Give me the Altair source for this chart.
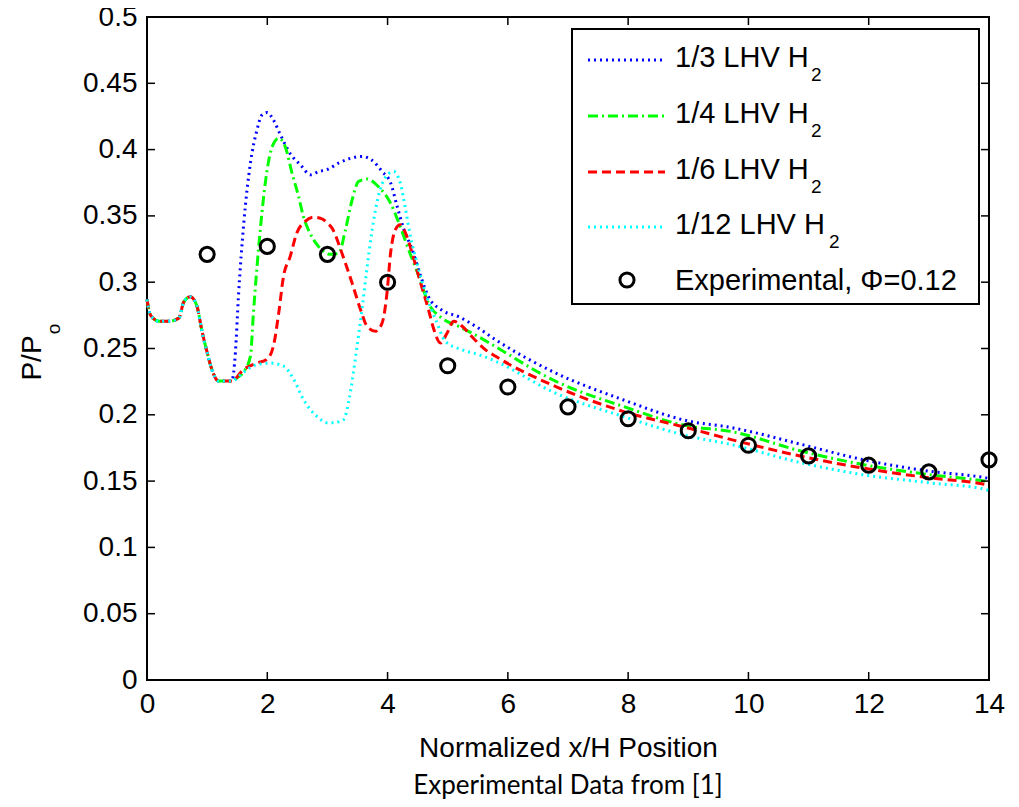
import altair as alt
import pandas as pd

# ---------------- data ----------------
# common start shared by all four simulated curves
common_x = [0.0, 0.06, 0.2, 0.38, 0.53, 0.61, 0.72, 0.83, 0.91, 1.0, 1.08, 1.19, 1.3, 1.41]
common_y = [0.287, 0.275, 0.2706, 0.2706, 0.273, 0.285, 0.289, 0.282, 0.264, 0.247, 0.234, 0.2254, 0.2254, 0.2254]

third_x = [1.47, 1.52, 1.61, 1.72, 1.83, 1.91, 2.0, 2.1, 2.21, 2.38, 2.55, 2.72, 2.86, 3.0, 3.19, 3.58, 3.74,
           3.91, 4.05, 4.16, 4.27, 4.41, 4.55, 4.68, 4.9, 5.18, 5.51, 5.79, 6.79, 7.9, 9.0, 9.7, 10.88, 11.88,
           12.99, 13.93, 14.0]
third_y = [0.247, 0.289, 0.345, 0.39, 0.415, 0.426, 0.428, 0.4225, 0.412, 0.397, 0.3886, 0.381, 0.3835, 0.385,
           0.39, 0.3948, 0.392, 0.3835, 0.375, 0.357, 0.34, 0.3245, 0.3045, 0.289, 0.279, 0.274, 0.2654, 0.2568,
           0.2316, 0.2116, 0.1953, 0.1905, 0.1777, 0.1664, 0.1576, 0.1526, 0.152]

quarter_x = [1.5, 1.6, 1.72, 1.77, 1.83, 1.91, 1.99, 2.08, 2.19, 2.3, 2.41, 2.52, 2.6, 2.71, 2.85, 3.05, 3.19,
             3.3, 3.41, 3.52, 3.66, 3.85, 4.05, 4.21, 4.35, 4.52, 4.68, 4.9, 5.18, 5.51, 5.79, 6.79, 7.9, 9.0,
             9.7, 10.88, 11.88, 12.99, 13.93, 14.0]
quarter_y = [0.228, 0.232, 0.2443, 0.277, 0.312, 0.352, 0.3825, 0.402, 0.4085, 0.402, 0.3825, 0.3647, 0.3496,
             0.337, 0.327, 0.321, 0.322, 0.3396, 0.362, 0.376, 0.3778, 0.372, 0.3595, 0.342, 0.3245, 0.3045,
             0.2842, 0.273, 0.2667, 0.259, 0.2515, 0.2254, 0.2066, 0.1915, 0.1875, 0.1726, 0.1627, 0.155, 0.150,
             0.1495]

sixth_x = [1.6, 1.83, 1.99, 2.1, 2.19, 2.27, 2.38, 2.49, 2.63, 2.77, 2.9, 3.0, 3.08, 3.24, 3.41, 3.55, 3.66,
           3.8, 3.91, 3.99, 4.05, 4.13, 4.21, 4.32, 4.44, 4.55, 4.68, 4.77, 4.88, 4.99, 5.1, 5.24, 5.4, 5.63,
           5.79, 6.79, 7.9, 9.0, 9.7, 10.88, 11.88, 12.99, 13.93, 14.0]
sixth_y = [0.234, 0.239, 0.2417, 0.2515, 0.2767, 0.3045, 0.3193, 0.337, 0.3459, 0.349, 0.348, 0.3446, 0.3406,
           0.322, 0.2994, 0.2794, 0.2667, 0.263, 0.2693, 0.2918, 0.322, 0.3396, 0.3434, 0.3346, 0.317, 0.2994,
           0.2794, 0.2643, 0.2542, 0.2617, 0.2706, 0.2668, 0.259, 0.249, 0.2443, 0.2214, 0.2028, 0.190, 0.1815,
           0.1687, 0.16, 0.1526, 0.1476, 0.147]

twelfth_x = [1.6, 1.83, 2.05, 2.27, 2.44, 2.6, 2.82, 3.0, 3.1, 3.27, 3.36, 3.47, 3.58, 3.69, 3.8, 3.94, 4.1,
             4.21, 4.3, 4.38, 4.49, 4.63, 4.8, 4.96, 5.24, 5.51, 5.79, 6.79, 7.9, 9.0, 9.7, 10.88, 11.88, 12.99,
             13.93, 14.0]
twelfth_y = [0.232, 0.238, 0.239, 0.2367, 0.2267, 0.2116, 0.199, 0.194, 0.194, 0.1965, 0.2116, 0.2443, 0.2816,
             0.322, 0.3547, 0.3773, 0.3835, 0.375, 0.3547, 0.3346, 0.3145, 0.2918, 0.2718, 0.2555, 0.249,
             0.2455, 0.2405, 0.2164, 0.199, 0.184, 0.1777, 0.1638, 0.155, 0.1488, 0.1438, 0.143]

exp_x = [1, 2, 3, 4, 5, 6, 7, 8, 9, 10, 11, 12, 13, 14]
exp_y = [0.321, 0.327, 0.321, 0.300, 0.237, 0.221, 0.206, 0.197, 0.188, 0.177, 0.169, 0.162, 0.157, 0.166]

series_names = ["1/3 LHV H", "1/4 LHV H", "1/6 LHV H", "1/12 LHV H"]
series_x = [third_x, quarter_x, sixth_x, twelfth_x]
series_y = [third_y, quarter_y, sixth_y, twelfth_y]
exp_label = "Experimental, \u03a6=0.12"

x_ticks = [0, 2, 4, 6, 8, 10, 12, 14]
y_ticks = [0, 0.05, 0.1, 0.15, 0.2, 0.25, 0.3, 0.35, 0.4, 0.45, 0.5]

# ---------------- styles ----------------
colors = ["#0000ff", "#00ff00", "#ff0000", "#00ffff"]
dashes = [[2, 4], [10, 4, 2, 4], [9, 5], [2, 4]]
FONT = "Liberation Sans"
W, H = 842, 663
LW = 3

xs = alt.Scale(domain=[0, 14], nice=False, zero=False)
ys = alt.Scale(domain=[0, 0.5], nice=False)

xaxis = alt.Axis(values=x_ticks, title="Normalized x/H Position", labelFontSize=28, labelFont=FONT,
                 ticks=False, domain=False, grid=False, labelPadding=10, labelFlush=False,
                 labelOverlap=False, labelColor="black", titleFont=FONT, titleFontSize=28,
                 titleFontWeight="normal", titleColor="black", titleBaseline="alphabetic", titleY=76,
                 format="d")
yaxis = alt.Axis(values=y_ticks, title=None, labelFontSize=28, labelFont=FONT, ticks=False, domain=False,
                 grid=False, labelPadding=10, labelFlush=False, labelOverlap=False, labelColor="black",
                 format="~g")

layers = []
for i, name in enumerate(series_names):
    df = pd.DataFrame({"x": common_x + series_x[i], "y": common_y + series_y[i]})
    enc = dict(x=alt.X("x:Q", scale=xs, axis=xaxis), y=alt.Y("y:Q", scale=ys, axis=yaxis)) if i == 0 else \
        dict(x=alt.X("x:Q", scale=xs), y=alt.Y("y:Q", scale=ys))
    layers.append(
        alt.Chart(df).mark_line(color=colors[i], strokeDash=dashes[i], strokeWidth=LW,
                                interpolate="monotone").encode(**enc)
    )

exp_df = pd.DataFrame({"x": exp_x, "y": exp_y})
layers.append(
    alt.Chart(exp_df).mark_point(shape="circle", size=200, filled=False, color="black", strokeWidth=3,
                                 opacity=1).encode(x=alt.X("x:Q", scale=xs), y=alt.Y("y:Q", scale=ys))
)

# inward ticks on all four sides
xt = pd.DataFrame({"t": x_ticks})
yt = pd.DataFrame({"t": y_ticks})
tick_style = dict(color="black", strokeWidth=1.5)
layers.append(alt.Chart(xt).mark_rule(**tick_style).encode(x=alt.X("t:Q", scale=xs), y=alt.value(H), y2=alt.value(H - 8)))
layers.append(alt.Chart(xt).mark_rule(**tick_style).encode(x=alt.X("t:Q", scale=xs), y=alt.value(0), y2=alt.value(8)))
layers.append(alt.Chart(yt).mark_rule(**tick_style).encode(y=alt.Y("t:Q", scale=ys), x=alt.value(0), x2=alt.value(8)))
layers.append(alt.Chart(yt).mark_rule(**tick_style).encode(y=alt.Y("t:Q", scale=ys), x=alt.value(W), x2=alt.value(W - 8)))

# ---------------- legend (drawn by hand for subscripts) ----------------
one = pd.DataFrame({"a": [0]})
layers.append(alt.Chart(one).mark_rect(fill="white", stroke="black", strokeWidth=2).encode(
    x=alt.value(425), x2=alt.value(832), y=alt.value(12), y2=alt.value(287)))
row_y = [43, 99, 155, 210]
sub_x = [664, 664, 664, 682]
for i, name in enumerate(series_names):
    layers.append(alt.Chart(one).mark_rule(color=colors[i], strokeDash=dashes[i], strokeWidth=LW).encode(
        x=alt.value(441), x2=alt.value(518), y=alt.value(row_y[i]), y2=alt.value(row_y[i])))
    layers.append(alt.Chart(one).mark_text(font=FONT, fontSize=29, align="left", baseline="alphabetic",
                                           color="black").encode(
        x=alt.value(528), y=alt.value(row_y[i] + 7), text=alt.value(name)))
    layers.append(alt.Chart(one).mark_text(font=FONT, fontSize=19, align="left", baseline="alphabetic",
                                           color="black").encode(
        x=alt.value(sub_x[i]), y=alt.value(row_y[i] + 21), text=alt.value("2")))
layers.append(alt.Chart(one).mark_point(shape="circle", size=200, filled=False, color="black", strokeWidth=3,
                                        opacity=1).encode(x=alt.value(480), y=alt.value(263)))
layers.append(alt.Chart(one).mark_text(font=FONT, fontSize=29, align="left", baseline="alphabetic",
                                       color="black").encode(
    x=alt.value(528), y=alt.value(273), text=alt.value(exp_label)))

# ---------------- y title with subscript, caption ----------------
layers.append(alt.Chart(one).mark_text(font=FONT, fontSize=28, angle=270, align="center", baseline="middle",
                                       color="black").encode(
    x=alt.value(-114), y=alt.value(341), text=alt.value("P/P")))
layers.append(alt.Chart(one).mark_text(font=FONT, fontSize=19, angle=270, align="center", baseline="middle",
                                       color="black").encode(
    x=alt.value(-93), y=alt.value(312), text=alt.value("o")))
layers.append(alt.Chart(one).mark_text(font="Lato", fontSize=26, align="center", baseline="alphabetic",
                                       color="black").encode(
    x=alt.value(421), y=alt.value(777), text=alt.value("Experimental Data from [1]")))

chart = alt.layer(*layers).properties(
    width=W, height=H,
    autosize=alt.AutoSizeParams(type="none"),
    padding={"left": 139, "top": 9, "right": 18, "bottom": 119},
    background="white",
).configure_view(stroke="black", strokeWidth=2)

chart.save("out.html", embed_options={"renderer": "svg", "actions": False})
